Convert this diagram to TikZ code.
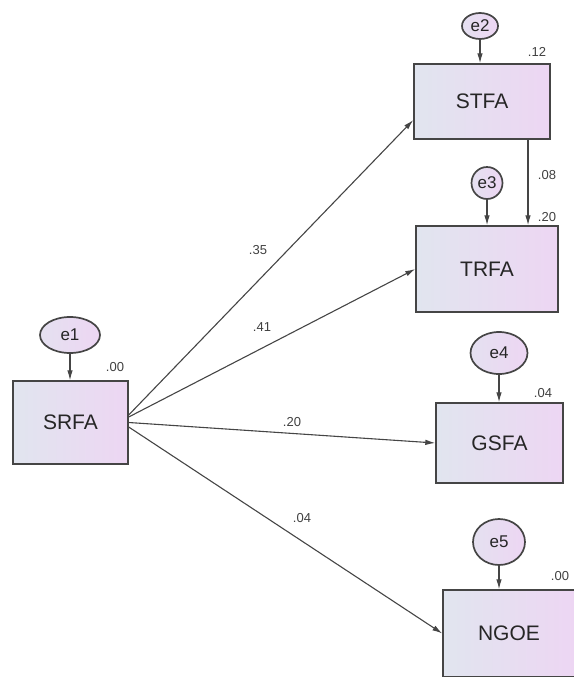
\documentclass[tikz,border=0pt]{standalone}
\usepackage{fontspec}
\setmainfont{Liberation Sans}
\usetikzlibrary{arrows.meta,shapes.geometric}

\definecolor{bordo}{HTML}{454545}
\definecolor{azz}{HTML}{E1E5EF}
\definecolor{lilla}{HTML}{EDD6F3}

\tikzset{
    box/.style={draw=bordo, line width=1.4pt, left color=azz, right color=lilla,
        inner sep=0pt, text=black!85, font=\fontsize{21}{24}\selectfont},
    err/.style={ellipse, draw=bordo, line width=1.7pt, left color=azz!70!lilla,
        right color=lilla, inner sep=0pt, text=black!85, font=\fontsize{17}{19}\selectfont},
    coef/.style={inner sep=0pt, text=black!75, font=\fontsize{13}{15}\selectfont},
    freccia/.style={draw=bordo, line width=1.1pt, -{Latex[length=10pt,width=5.5pt]}}
}

\begin{document}
\begin{tikzpicture}[x=1pt,y=-1pt]
        \useasboundingbox (0,0) rectangle (573,677);

        % Variabili
        \node[box, minimum width=115pt, minimum height=83pt] (srfa) at (70.5,422.5) {SRFA};
        \node[box, minimum width=136pt, minimum height=75pt] (stfa) at (482,101.5) {STFA};
        \node[box, minimum width=142pt, minimum height=86pt] (trfa) at (487,269) {TRFA};
        \node[box, minimum width=127pt, minimum height=80pt] (gsfa) at (499.5,443) {GSFA};
        \node[box, minimum width=132pt, minimum height=87pt] (ngoe) at (509,633.5) {NGOE};

        % Errori
        \node[err, minimum width=60pt, minimum height=36pt] (e1) at (70,335) {e1};
        \node[err, minimum width=36pt, minimum height=26pt] (e2) at (480,26) {e2};
        \node[err, minimum width=31pt, minimum height=32pt] (e3) at (487,183) {e3};
        \node[err, minimum width=57pt, minimum height=42pt] (e4) at (499,353) {e4};
        \node[err, minimum width=52pt, minimum height=46pt] (e5) at (499,542) {e5};

        \draw[freccia] (e1) -- (e1 |- srfa.north);
        \draw[freccia] (e2) -- (e2 |- stfa.north);
        \draw[freccia] (e3) -- (e3 |- trfa.north);
        \draw[freccia] (e4) -- (e4 |- gsfa.north);
        \draw[freccia] (e5) -- (e5 |- ngoe.north);

        % Percorsi
        \draw[freccia] ([yshift=7.5pt]srfa.east) -- ([yshift=-18.5pt]stfa.west);
        \draw[freccia] ([yshift=5.5pt]srfa.east) -- (trfa.west);
        \draw[freccia] (srfa.east) -- (gsfa.west);
        \draw[freccia] ([yshift=-4.5pt]srfa.east) -- (ngoe.west);
        \draw[freccia] ([xshift=46pt]stfa.south) -- ([xshift=46pt]stfa.south |- trfa.north);

        % Coefficienti
        \node[coef] (r1) at (115,367) {.00};
        \node[coef] (r2) at (537,52) {.12};
        \node[coef] (r3) at (547,217) {.20};
        \node[coef] (r4) at (543,393) {.04};
        \node[coef] (r5) at (560,576) {.00};

        \node[coef] (p1) at (258,250) {.35};
        \node[coef] (p2) at (262,327) {.41};
        \node[coef] (p3) at (292,422) {.20};
        \node[coef] (p4) at (302,518) {.04};
        \node[coef] (p5) at (547,175) {.08};
    \end{tikzpicture}
\end{document}
